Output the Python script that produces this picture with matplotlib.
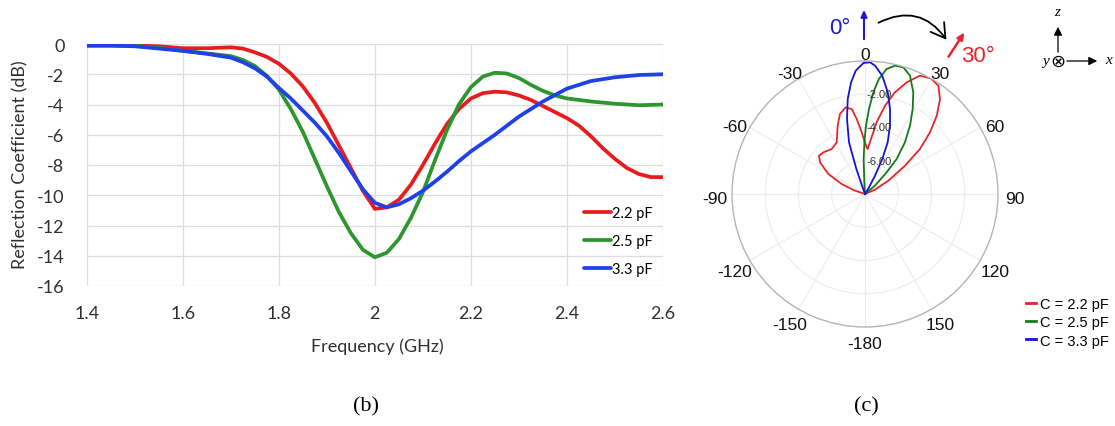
import numpy as np
import matplotlib
matplotlib.use("Agg")
import matplotlib.pyplot as plt
from matplotlib.patches import FancyArrowPatch
from matplotlib.transforms import offset_copy

plt.rcParams["axes.unicode_minus"] = False

W, H = 1115, 427

# ---------------- data: (b) reflection coefficient ----------------
freq_red = [1.40, 1.45, 1.50, 1.55, 1.60, 1.65, 1.70, 1.725, 1.75, 1.775, 1.80, 1.825, 1.85, 1.875,
            1.90, 1.925, 1.95, 1.975, 2.00, 2.025, 2.05, 2.075, 2.10, 2.125, 2.15, 2.175, 2.20,
            2.225, 2.25, 2.275, 2.30, 2.325, 2.35, 2.375, 2.40, 2.425, 2.45, 2.475, 2.50, 2.525,
            2.55, 2.575, 2.60]
s11_red = [-0.10, -0.10, -0.10, -0.15, -0.28, -0.28, -0.22, -0.30, -0.55, -0.85, -1.30, -1.95, -2.80,
           -3.90, -5.20, -6.70, -8.20, -9.70, -10.90, -10.80, -10.30, -9.30, -8.00, -6.60, -5.30,
           -4.30, -3.60, -3.25, -3.15, -3.20, -3.40, -3.70, -4.10, -4.50, -4.90, -5.40, -6.10,
           -6.90, -7.60, -8.20, -8.60, -8.80, -8.80]

freq_green = [1.40, 1.45, 1.50, 1.55, 1.60, 1.65, 1.70, 1.725, 1.75, 1.775, 1.80, 1.825, 1.85, 1.875,
              1.90, 1.925, 1.95, 1.975, 2.00, 2.025, 2.05, 2.075, 2.10, 2.125, 2.15, 2.175, 2.20,
              2.225, 2.25, 2.275, 2.30, 2.325, 2.35, 2.375, 2.40, 2.45, 2.50, 2.55, 2.60]
s11_green = [-0.10, -0.10, -0.12, -0.25, -0.45, -0.62, -0.80, -1.05, -1.45, -2.10, -3.00, -4.30,
             -5.80, -7.60, -9.40, -11.10, -12.50, -13.60, -14.10, -13.80, -12.90, -11.50, -9.80,
             -7.70, -5.70, -4.00, -2.85, -2.15, -1.90, -1.95, -2.25, -2.70, -3.10, -3.40, -3.60,
             -3.80, -3.95, -4.05, -4.00]

freq_blue = [1.40, 1.45, 1.50, 1.55, 1.60, 1.65, 1.70, 1.725, 1.75, 1.775, 1.80, 1.825, 1.85, 1.875,
             1.90, 1.925, 1.95, 1.975, 2.00, 2.025, 2.05, 2.075, 2.10, 2.125, 2.15, 2.175, 2.20,
             2.25, 2.30, 2.35, 2.40, 2.45, 2.50, 2.55, 2.60]
s11_blue = [-0.10, -0.10, -0.15, -0.30, -0.45, -0.65, -0.90, -1.20, -1.60, -2.15, -2.90, -3.60,
            -4.40, -5.20, -6.10, -7.20, -8.40, -9.60, -10.50, -10.80, -10.60, -10.20, -9.70,
            -9.10, -8.45, -7.75, -7.10, -6.00, -4.80, -3.80, -2.95, -2.45, -2.20, -2.05, -2.00]

labels_b = ["2.2 pF", "2.5 pF", "3.3 pF"]
x_ticks = [1.4, 1.6, 1.8, 2.0, 2.2, 2.4, 2.6]
x_ticklabels = ["1.4", "1.6", "1.8", "2", "2.2", "2.4", "2.6"]
y_ticks = [0, -2, -4, -6, -8, -10, -12, -14, -16]

# ---------------- data: (c) radiation pattern (deg, dB) ----------------
ang_red = [-80, -71.6, -66.8, -61.4, -54.9, -50.2, -45.0, -36.5, -28.7, -21.8, -17.4, -12.6,
           -8.9, -6.3, -3.1, 2.0, 3.4, 6.2, 9.2, 12.8, 16.4, 20.5, 24.9, 29.7, 34.1, 38.3, 42.5,
           46.5, 50.7, 54.7, 60.3, 66.6, 72]
gain_red = [-8.0, -7.37, -6.47, -5.49, -4.69, -4.40, -4.46, -4.63, -4.46, -3.57, -2.96, -2.66,
            -2.83, -3.46, -4.28, -5.19, -5.29, -4.67, -3.63, -2.55, -1.62, -0.83, -0.15, 0.0,
            -0.13, -0.72, -1.61, -2.61, -3.73, -5.05, -6.38, -7.34, -8.0]

ang_green = [-5, -3.3, -2.2, -0.7, 0.8, 2.7, 4.7, 6.9, 9.8, 13.2, 16.8, 20.8, 25.4, 29.3, 33.4,
             37.7, 42.1, 45.0, 50.0, 56]
gain_green = [-8.0, -7.30, -5.89, -4.89, -3.89, -2.88, -1.86, -1.03, -0.37, -0.07, -0.04, -0.38,
              -1.23, -2.14, -3.08, -4.07, -5.16, -6.16, -7.22, -8.0]

ang_blue = [-22, -19.5, -19.0, -17.2, -13.5, -10.3, -7.1, -4.3, -0.7, 2.2, 4.5, 8.3, 12.6, 16.4,
            20.1, 23.7, 26.3, 28.6, 31.0, 34]
gain_blue = [-8.0, -7.26, -6.38, -4.75, -3.36, -2.19, -1.23, -0.56, -0.12, -0.07, -0.26, -0.81,
             -1.73, -2.67, -3.62, -4.61, -5.65, -6.74, -7.53, -8.0]

labels_c = ["C = 2.2 pF", "C = 2.5 pF", "C = 3.3 pF"]
theta_ticks = [0, 30, 60, 90, 120, 150, 180, 210, 240, 270, 300, 330]
theta_labels = ["0", "30", "60", "90", "120", "150", "-180", "-150", "-120", "-90", "-60", "-30"]
r_ticks = [-6, -4, -2]
r_labels = ["-6.00", "-4.00", "-2.00"]


def fx(px):
    return px / W


def fy(py):
    return 1 - py / H


fig = plt.figure(figsize=(W / 100, H / 100), dpi=100)
fig.patch.set_facecolor("white")

# ---------------- panel (b) ----------------
ax = fig.add_axes([fx(86.7), fy(287), (663 - 86.7) / W, (287 - 45) / H])
cols_b = ["#e81c1c", "#2e962e", "#1f40ea"]
for f, s, c, lab in zip([freq_red, freq_green, freq_blue], [s11_red, s11_green, s11_blue],
                        cols_b, labels_b):
    ax.plot(f, s, color=c, lw=2.7, label=lab, solid_capstyle="round", solid_joinstyle="round")
ax.set_xlim(1.4, 2.6)
ax.set_ylim(-16, 0)
ax.set_xticks(x_ticks)
ax.set_xticklabels(x_ticklabels)
ax.set_yticks(y_ticks)
ax.grid(True, color="#dedede", lw=0.9)
ax.set_axisbelow(True)
for sp in ax.spines.values():
    sp.set_visible(False)
ax.tick_params(length=0, labelsize=13, colors="#303030")
ax.tick_params(axis="y", pad=16)
ax.tick_params(axis="x", pad=14)
for t in ax.get_xticklabels() + ax.get_yticklabels():
    t.set_family("Lato")
leg = ax.legend(loc="lower right", frameon=False, handlelength=1.8,
                handletextpad=0.1, labelspacing=0.95, borderaxespad=0.3,
                prop={"family": "Lato", "size": 10.5})
fig.text(fx(20), fy(165), "Reflection Coefficient (dB)", rotation=90, ha="center", va="center",
         fontsize=13, family="Lato", color="#303030")
fig.text(fx(377), fy(347), "Frequency (GHz)", ha="center", va="center", fontsize=13,
         family="Lato", color="#303030")
fig.text(fx(366), fy(407), "(b)", ha="center", va="center", fontsize=16,
         family="Liberation Serif")
fig.text(fx(866), fy(407), "(c)", ha="center", va="center", fontsize=16,
         family="Liberation Serif")

# ---------------- panel (c) ----------------
R = 133
CX, CY = 865, 195
pax = fig.add_axes([fx(CX - R), fy(CY + R), 2 * R / W, 2 * R / H], projection="polar")
pax.set_theta_zero_location("N")
pax.set_theta_direction(-1)
cols_c = ["#e8262a", "#157a15", "#1515d6"]
for a, g, c, lab in zip([ang_red, ang_green, ang_blue], [gain_red, gain_green, gain_blue],
                        cols_c, labels_c):
    pax.plot(np.deg2rad(a), g, color=c, lw=1.3, label=lab)
pax.set_ylim(-8, 0)
pax.set_thetagrids(theta_ticks, [""] * len(theta_ticks))
pax.set_rgrids(r_ticks, [""] * len(r_ticks))
pax.set_xticks(np.deg2rad(np.arange(0, 360, 5)), minor=True)
pax.tick_params(axis="x", which="major", length=4, direction="in", color="#b0b0b0")
pax.tick_params(axis="x", which="minor", length=3, direction="in", color="#b0b0b0")
pax.grid(True, color="#ececec", lw=0.8)
pax.spines["polar"].set_color("#b4b4b4")
pax.spines["polar"].set_linewidth(1.0)

# angular labels (MATLAB-like placement around the circle)
for th, lab in zip(theta_ticks, theta_labels):
    t = np.deg2rad(th)
    fig.text(fx(CX + 150 * np.sin(t)), fy(CY + 5 - 145 * np.cos(t)), lab, ha="center",
             va="center", fontsize=12.5, family="Liberation Sans", color="#111111")

# radial labels
rtrans = offset_copy(pax.transData, fig=fig, x=1, y=0, units="points")
for rv, lab in zip(r_ticks, r_labels):
    pax.text(0, rv, lab, transform=rtrans, ha="left", va="center", fontsize=8,
             family="Liberation Sans", color="#333333")

pleg = pax.legend(loc="upper left", bbox_to_anchor=(fx(1020), fy(292)),
                  bbox_transform=fig.transFigure, frameon=False, handlelength=0.7,
                  handletextpad=0.3, labelspacing=0.3, borderaxespad=0,
                  prop={"family": "Liberation Sans", "size": 10.5})
for lh in pleg.get_lines():
    lh.set_linewidth(2.0)

# ---------------- annotations above (c) ----------------
fig.text(fx(840), fy(29), "0°", color="#1a1ad0", fontsize=16, ha="center", va="center",
         family="Liberation Sans")
fig.add_artist(FancyArrowPatch((fx(864), fy(43)), (fx(864), fy(8)), transform=fig.transFigure,
                               arrowstyle="-|>,head_length=4,head_width=1.8", color="#1a1ad0",
                               lw=1.5, mutation_scale=1))
fig.add_artist(FancyArrowPatch((fx(876), fy(25)), (fx(948), fy(43)), transform=fig.transFigure,
                               connectionstyle="arc3,rad=-0.45",
                               arrowstyle="->,head_length=10,head_width=6", color="black",
                               lw=1.3, mutation_scale=1))
fig.add_artist(FancyArrowPatch((fx(947), fy(60)), (fx(966), fy(31)), transform=fig.transFigure,
                               arrowstyle="-|>,head_length=4,head_width=1.8", color="#e8262a",
                               lw=1.8, mutation_scale=1))
fig.text(fx(978), fy(57), "30°", color="#e8262a", fontsize=16, ha="center", va="center",
         family="Liberation Sans")

# coordinate icon
fig.add_artist(FancyArrowPatch((fx(1058), fy(56)), (fx(1058), fy(25)), transform=fig.transFigure,
                               arrowstyle="-|>,head_length=5,head_width=2.5", color="black",
                               lw=0.9, mutation_scale=1))
fig.add_artist(FancyArrowPatch((fx(1064), fy(62)), (fx(1100), fy(62)), transform=fig.transFigure,
                               arrowstyle="-|>,head_length=5,head_width=2.5", color="black",
                               lw=0.9, mutation_scale=1))
fig.text(fx(1058), fy(62), "⊗", fontsize=13, ha="center", va="center", family="DejaVu Sans")
fig.text(fx(1057), fy(13), "z", fontsize=11, ha="center", va="center", family="Liberation Serif",
         style="italic")
fig.text(fx(1109), fy(61), "x", fontsize=11, ha="center", va="center", family="Liberation Serif",
         style="italic")
fig.text(fx(1046), fy(62), "y", fontsize=11, ha="center", va="center", family="Liberation Serif",
         style="italic")

fig.savefig("out.png", dpi=100, facecolor="white")
